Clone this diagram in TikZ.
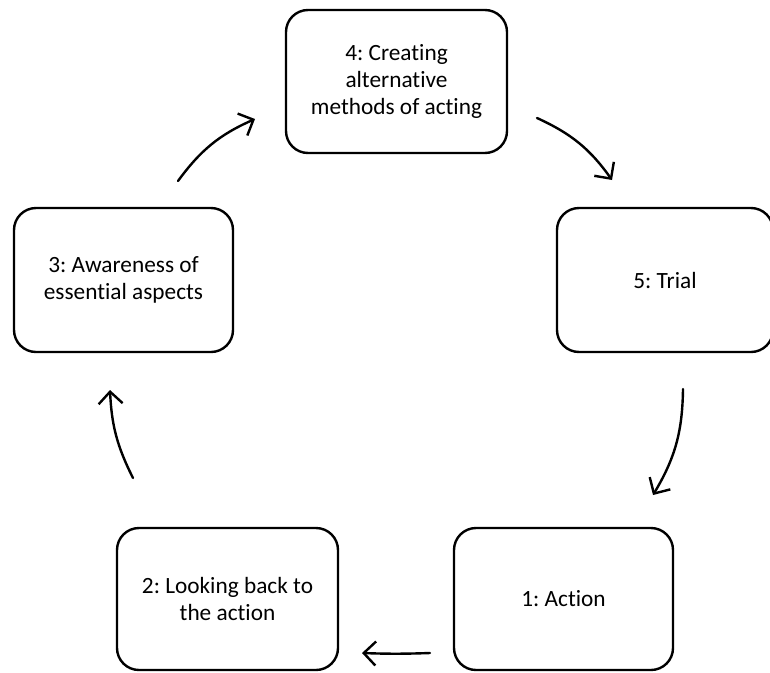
\documentclass[tikz,border=0pt]{standalone}
\usepackage{fontspec}
\setmainfont{Carlito}[Ligatures={NoCommon}]
\usetikzlibrary{arrows.meta}
\frenchspacing
\begin{document}
\begin{tikzpicture}[x=1pt,y=-1pt,
  stagebox/.style={draw=black, line width=2.4pt, rounded corners=22pt, align=center,
    font=\fontsize{23.3}{27}\selectfont\frenchspacing, inner sep=0pt},
  cyc/.style={line width=2.4pt, -{Straight Barb[length=12pt,width=24pt,line width=2.4pt]}, line cap=round}]
\useasboundingbox (0,0) rectangle (770,672);
\node[stagebox, minimum width=221pt, minimum height=143pt] (n4) at (396.5,81.5) {4: Creating\\alternative\\methods of acting};
\node[stagebox, minimum width=216pt, minimum height=144pt] (n5) at (665,280) {5: Trial};
\node[stagebox, minimum width=219pt, minimum height=144pt] (n3) at (123.5,280) {3: Awareness of\\essential aspects};
\node[stagebox, minimum width=221pt, minimum height=142pt] (n2) at (227.5,599) {2: Looking back to\\the action};
\node[stagebox, minimum width=219pt, minimum height=142pt] (n1) at (563.5,599) {1: Action};
\coordinate (a34s) at (178,181);
\coordinate (a34e) at (255,119);
\coordinate (a45s) at (537,118);
\coordinate (a45e) at (612,180);
\coordinate (a51s) at (683,389);
\coordinate (a51e) at (653,495);
\coordinate (a12s) at (430,653);
\coordinate (a12e) at (362,653);
\coordinate (a23s) at (133,478);
\coordinate (a23e) at (110,390);
\draw[cyc] (a34s) to[bend left=15] (a34e);
\draw[cyc] (a45s) to[bend left=15] (a45e);
\draw[cyc] (a51s) to[bend left=15] (a51e);
\draw[cyc] (a12s) to[bend left=2] (a12e);
\draw[cyc] (a23s) to[bend left=12] (a23e);
\end{tikzpicture}
\end{document}
